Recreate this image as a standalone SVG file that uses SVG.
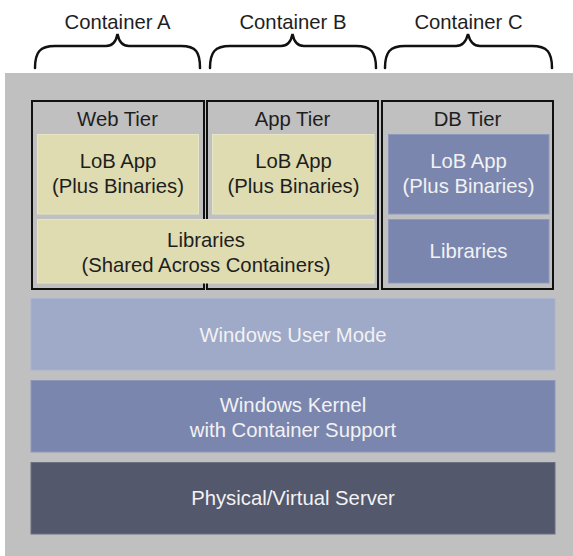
<svg xmlns="http://www.w3.org/2000/svg" width="573" height="556" viewBox="0 0 573 556">
<style>
text{font-family:"Liberation Sans","Noto Sans",Arial,sans-serif;font-size:20.3px;text-anchor:middle}
.dark{fill:#1e1e1e}
.light{fill:#f2f2f4}
.tier{fill:none;stroke:#111;stroke-width:2}
.yel{fill:#dedcb0;stroke:#e6e5c6;stroke-width:1}
.blu{fill:#7a86ad;stroke:#8e99bb;stroke-width:1}
.brace{fill:none;stroke:#111;stroke-width:2.5;stroke-linecap:round}
</style>
<rect x="0" y="0" width="573" height="556" fill="#ffffff"/>
<rect x="5" y="73" width="568" height="483" fill="#c0c0c0"/>
<g id="braces">
<path class="brace" d="M35,68 C35,52 40,46 55,46 L106,46 C112,46 116,42 117.5,34 C119,42 123,46 129,46 L181,46 C196,46 200,52 200,68"/>
<path class="brace" d="M210,68 C210,52 215,46 230,46 L281,46 C287,46 291,42 292.5,34 C294,42 298,46 304,46 L356,46 C371,46 376,52 376,68"/>
<path class="brace" d="M385,68 C385,52 390,46 405,46 L456,46 C462,46 466,42 468,34 C470,42 474,46 480,46 L532,46 C547,46 552,52 552,68"/>
</g>
<g id="labels">
<text class="dark" x="117.5" y="29">Container A</text>
<text class="dark" x="293" y="29">Container B</text>
<text class="dark" x="468.5" y="29">Container C</text>
</g>
<g id="web-tier">
<rect class="tier" x="32" y="101" width="172" height="188"/>
<text class="dark" x="117.5" y="125.5">Web Tier</text>
<g id="web-lob">
<rect class="yel" x="37.5" y="134.5" width="161" height="79.5"/>
<text class="dark" x="118" y="168">LoB App</text>
<text class="dark" x="118" y="192.5">(Plus Binaries)</text>
</g>
</g>
<g id="app-tier">
<rect class="tier" x="207" y="101" width="171" height="188"/>
<text class="dark" x="292.5" y="125.5">App Tier</text>
<g id="app-lob">
<rect class="yel" x="212.5" y="134.5" width="161.5" height="79.5"/>
<text class="dark" x="293.5" y="168">LoB App</text>
<text class="dark" x="293.5" y="192.5">(Plus Binaries)</text>
</g>
</g>
<g id="shared-libraries">
<rect class="yel" x="37.5" y="219.5" width="336.5" height="63.5"/>
<text class="dark" x="206" y="246.5">Libraries</text>
<text class="dark" x="206" y="271.5">(Shared Across Containers)</text>
</g>
<g id="db-tier">
<rect class="tier" x="382" y="101" width="171" height="188"/>
<text class="dark" x="467.5" y="125.5">DB Tier</text>
<g id="db-lob">
<rect class="blu" x="388.5" y="134.5" width="160.5" height="79.5"/>
<text class="light" x="468.5" y="168">LoB App</text>
<text class="light" x="468.5" y="192.5">(Plus Binaries)</text>
</g>
<g id="db-libraries">
<rect class="blu" x="388.5" y="219.5" width="160.5" height="63.5"/>
<text class="light" x="468.5" y="257.5">Libraries</text>
</g>
</g>
<g id="user-mode">
<rect x="31" y="298.5" width="524" height="71.5" fill="#9fa9c8" stroke="#abb4d0" stroke-width="1"/>
<text class="light" x="293" y="341.5">Windows User Mode</text>
</g>
<g id="kernel">
<rect x="31" y="380.5" width="524" height="71.5" fill="#7a86ad" stroke="#8d98ba" stroke-width="1"/>
<text class="light" x="293" y="411.5">Windows Kernel</text>
<text class="light" x="293" y="436.5">with Container Support</text>
</g>
<g id="server">
<rect x="31" y="462.5" width="524" height="71.5" fill="#53586c" stroke="#6a6f82" stroke-width="1"/>
<text class="light" x="293" y="505">Physical/Virtual Server</text>
</g>
</svg>
